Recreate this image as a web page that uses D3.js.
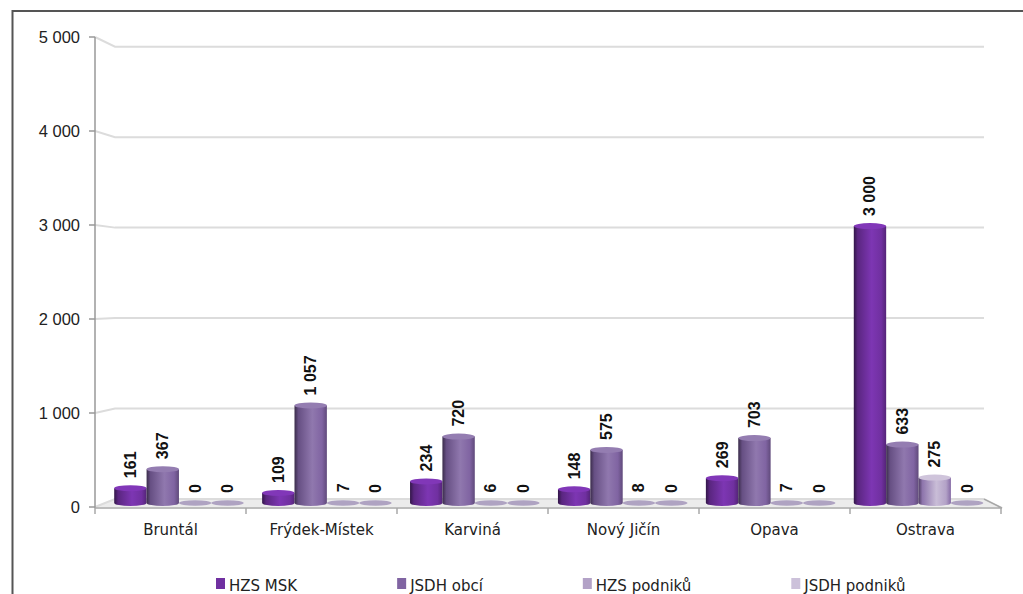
<!DOCTYPE html>
<html><head><meta charset="utf-8">
<script src="https://cdn.jsdelivr.net/npm/d3@7/dist/d3.min.js"></script>
<style>body{margin:0;background:#fff}svg{display:block}</style>
</head><body><svg id="c" width="1023" height="594"></svg>
<script>
const categories = ["Bruntál","Frýdek-Místek","Karviná","Nový Jičín","Opava","Ostrava"];
const seriesNames = ["HZS MSK","JSDH obcí","HZS podniků","JSDH podniků"];
const hzsMsk = [161,109,234,148,269,3000];
const jsdhObci = [367,1057,720,575,703,633];
const hzsPodniku = [0,7,6,8,7,275];
const jsdhPodniku = [0,0,0,0,0,0];
const yTicks = [0,1000,2000,3000,4000,5000];
const seriesValues = [hzsMsk, jsdhObci, hzsPodniku, jsdhPodniku];
const colors = ["#7030a0","#8064a2","#b3a2c7","#ccc1da"];

const svg = d3.select("#c");
const loc = d3.formatLocale({decimal:",",thousands:"\u00a0",grouping:[3],currency:["",""]});
const fmt = loc.format(",d");

// frame
svg.append("path").attr("d","M12.5,600 L12.5,11 L1030,11").attr("fill","none").attr("stroke","#555").attr("stroke-width",2);

const yFront = d3.scaleLinear().domain([0,5000]).range([507,37]);
const yBack = d3.scaleLinear().domain([0,5000]).range([499,46.7]);
const yBar = d3.scaleLinear().domain([0,5000]).range([503,41.5]);
const xFront = d3.scaleBand().domain(categories).range([95,1001]);
const xBar = d3.scaleBand().domain(categories).range([105,992.5]);
const xSub = d3.scaleBand().domain(d3.range(4)).range([0,129.5]);
const backL = 115, backR = 984;

// floor
svg.append("path")
  .attr("d",`M95,${yFront(0)} L${backL},${yBack(0)} L${backR},${yBack(0)} L1002,${yFront(0)} Z`)
  .attr("fill","#ececec").attr("stroke","none");

// gridlines
svg.append("g").selectAll("path").data(yTicks).join("path")
  .attr("d",d=>`M95,${yFront(d)} L${backL},${yBack(d)} L${backR},${yBack(d)}`)
  .attr("fill","none").attr("stroke","#dcdcdc").attr("stroke-width",2);

// y axis line + ticks
svg.append("line").attr("x1",95).attr("x2",95).attr("y1",yFront(5000)).attr("y2",yFront(0)+1)
  .attr("stroke","#999").attr("stroke-width",1.5);
svg.append("g").selectAll("line").data(yTicks).join("line")
  .attr("x1",89).attr("x2",95).attr("y1",d=>yFront(d)).attr("y2",d=>yFront(d))
  .attr("stroke","#999").attr("stroke-width",1.5);
svg.append("g").selectAll("text").data(yTicks).join("text")
  .attr("x",80).attr("y",d=>yFront(d)).attr("dy","0.36em")
  .attr("text-anchor","end").attr("font-family","Liberation Sans, Arial, sans-serif")
  .attr("font-size",16.5).attr("fill","#222").text(d=>fmt(d));

// front x axis line + right diagonal
svg.append("path").attr("d",`M95,${yFront(0)+1} L1002,${yFront(0)+1} L${backR},${yBack(0)}`)
  .attr("fill","none").attr("stroke","#a8a8a8").attr("stroke-width",1.5);
const edges = categories.map(c=>xFront(c)).concat([xFront.range()[1]]);
svg.append("g").selectAll("line").data(edges).join("line")
  .attr("x1",d=>d).attr("x2",d=>d).attr("y1",yFront(0)+1).attr("y2",yFront(0)+7)
  .attr("stroke","#a8a8a8").attr("stroke-width",1.5);

// category labels
svg.append("g").selectAll("text").data(categories).join("text")
  .attr("x",d=>xFront(d)+xFront.bandwidth()/2).attr("y",535)
  .attr("text-anchor","middle").attr("font-family","DejaVu Sans, sans-serif")
  .attr("font-size",15).attr("fill","#222").text(d=>d);

// gradients
const defs = svg.append("defs");
colors.forEach((c,i)=>{
  const base = d3.hsl(c);
  const g = defs.append("linearGradient").attr("id","g"+i).attr("x1",0).attr("x2",1).attr("y1",0).attr("y2",0);
  const dark = d3.hsl(base); dark.l *= 0.45;
  const mid = d3.hsl(base); mid.l *= 0.8;
  const light = d3.hsl(base); light.l = Math.min(1, light.l*1.12);
  const right = d3.hsl(base); right.l *= 0.75;
  [[0,dark],[0.12,mid],[0.55,light],[0.85,base],[1,right]].forEach(([o,col])=>
    g.append("stop").attr("offset",o).attr("stop-color",col.formatHex()));
});

// bars
const ry = 3;
const bw = xSub.bandwidth();
const barsG = svg.append("g");
const groupOffset = (xBar.bandwidth()-129.5)/2;
categories.forEach((cat,ci)=>{
  seriesValues.forEach((vals,si)=>{
    const v = vals[ci];
    const x0 = xBar(cat)+groupOffset+xSub(si);
    const cx = x0+bw/2;
    const yt = yBar(v), yb = yBar(0);
    const g = barsG.append("g");
    if (v > 0 && yb-yt > 1) {
      g.append("path")
        .attr("d",`M${x0},${yt} L${x0},${yb} A${bw/2},${ry} 0 0 0 ${x0+bw},${yb} L${x0+bw},${yt} Z`)
        .attr("fill",`url(#g${si})`);
      const top = d3.hsl(colors[si]); top.l = Math.min(1, top.l*1.15);
      g.append("ellipse").attr("cx",cx).attr("cy",yt).attr("rx",bw/2).attr("ry",ry)
        .attr("fill",top.formatHex());
    } else {
      g.append("ellipse").attr("cx",cx).attr("cy",yb).attr("rx",bw/2).attr("ry",2.8)
        .attr("fill","#a497bb").attr("opacity",0.85);
    }
    svg.append("text")
      .attr("transform",`translate(${cx},${yt-ry-7}) rotate(-90)`)
      .attr("dominant-baseline","central").attr("text-anchor","start")
      .attr("font-family","Liberation Sans, Arial, sans-serif").attr("font-weight","bold")
      .attr("font-size",16).attr("fill","#111").text(fmt(v));
  });
});

// legend
const lg = svg.append("g");
let lx = 216;
seriesNames.forEach((n,i)=>{
  lg.append("rect").attr("x",lx).attr("y",578).attr("width",9).attr("height",11).attr("fill",colors[i]);
  const t = lg.append("text").attr("font-family","DejaVu Sans, sans-serif").attr("font-size",15)
    .attr("x",lx+13).attr("y",591)
    .attr("fill","#222").text(n);
  const w = t.node().getComputedTextLength();
  lx += 13 + w + 100;
});
</script></body></html>
